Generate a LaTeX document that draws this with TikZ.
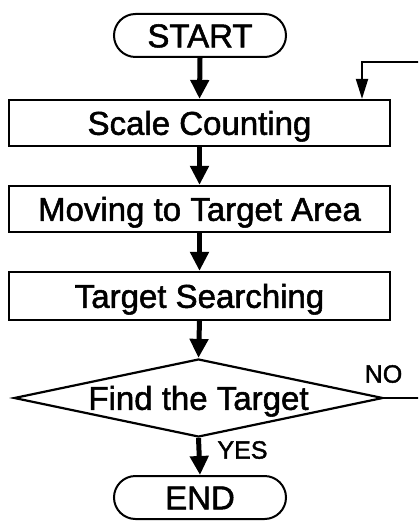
\documentclass[tikz,border=0pt]{standalone}
\usepackage{fontspec}
\setmainfont{Liberation Sans}[FakeBold=1.6]
\usetikzlibrary{arrows.meta,shapes.geometric}
\begin{document}
\begin{tikzpicture}[x=1pt,y=1pt,
  bigtext/.style={font=\fontsize{33}{40}\selectfont, text height=23.6pt, text depth=0pt},
  term/.style={bigtext, draw, line width=2pt, rounded corners=21.5pt, minimum width=172pt, minimum height=43pt, inner sep=0pt},
  proc/.style={bigtext, draw, line width=2.2pt, minimum width=381pt, minimum height=46pt, inner sep=0pt},
  decis/.style={bigtext, draw, line width=2.2pt, diamond, aspect=4.73, minimum width=369pt, minimum height=78pt, inner sep=0pt},
  flow/.style={line width=5pt, -{Triangle[width=18pt,length=19pt]}},
  back/.style={line width=2pt, -{Triangle[width=12pt,length=20pt]}},
  lab/.style={font=\fontsize{25}{30}\selectfont, inner sep=0pt}
]
\useasboundingbox (0,0) rectangle (418,-521);
\clip (0,0) rectangle (418,-521);
\node[term] (start) at (200,-35.5) {START};
\node[proc] (scale) at (199.5,-123) {Scale Counting};
\node[proc] (move) at (199.5,-209) {Moving to Target Area};
\node[proc, minimum height=48pt] (search) at (199.5,-296) {Target Searching};
\node[decis] (find) at (198.5,-398) {Find the Target};
\node[term] (end) at (200,-497.5) {END};
\draw[flow] (start.south) -- (scale.north);
\draw[flow] (scale.south) -- (move.north);
\draw[flow] (move.south) -- (search.north);
\draw[flow] (search.south) -- (find.north);
\draw[flow] (find.south) -- (end.north);
\coordinate (lx) at (440,-62);
\coordinate (lt) at (362,-62);
\draw[back] (find.east) -| (lx) -- (lt) -- (lt |- scale.north);
\node[lab] (yes) at (242.5,-450) {YES};
\node[lab] (no) at (383.5,-374) {NO};
\end{tikzpicture}
\end{document}
